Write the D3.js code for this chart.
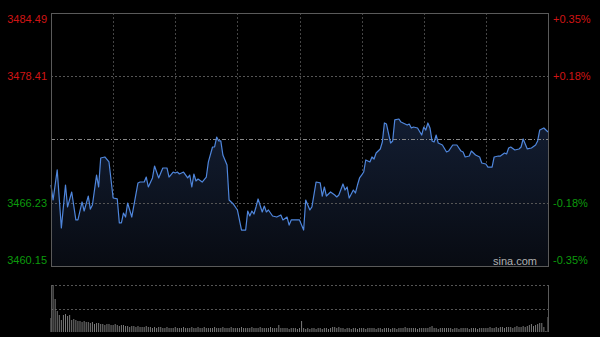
<!DOCTYPE html>
<html lang="zh-CN">
<head>
<meta charset="UTF-8"/>
<title>分时图</title>
<style>
  html, body { margin: 0; padding: 0; background: #000; }
  svg { display: block; }
  text { font-family: "Liberation Sans", Arial, sans-serif; font-size: 11px; }
</style>
</head>
<body>
<svg id="chart" width="600" height="337"></svg>
<script src="https://cdn.jsdelivr.net/npm/d3@7/dist/d3.min.js"></script>
<script>
// price axis labels (left) and percent labels (right)
var priceTicks = [3484.49, 3478.41, 3466.23, 3460.15];
var pctTicks = ["+0.35%", "+0.18%", "-0.18%", "-0.35%"];
var prevClose = 3472.32;

// minute index (0..240) and index level
var minutes = [0,1,3,5,7,8,10,12,13,15,16,18,19,20,22,23,24,26,28,30,32,33,34,35,36,37,39,42,43,45,
  46,47,49,50,52,54,56,57,59,60,61,62,64,66,67,68,69,70,71,73,75,76,78,79,80,81,82,83,85,86,
  88,90,92,94,95,96,97,98,99,100,102,103,104,105,107,109,111,112,114,115,116,118,120,122,123,125,126,128,130,131,
  132,133,135,137,138,139,141,142,143,144,146,147,148,149,150,151,152,154,155,156,157,159,160,161,162,164,165,166,168,169,
  170,172,173,174,175,177,179,180,181,182,183,184,185,186,187,189,191,192,194,196,198,199,200,202,203,205,207,208,210,211,
  213,214,216,217,219,220,221,222,224,226,227,228,230,232,234,235,236,238,239,240];
var prices = [3467.94,3466.50,3469.39,3463.81,3467.94,3465.83,3467.27,3464.58,3464.58,3466.31,3465.44,3466.88,3465.63,3466.02,3468.90,3467.75,3470.54,3470.64,3470.16,3466.69,3466.60,3464.29,3464.29,3465.25,3464.86,3466.21,3464.86,3468.14,3468.23,3468.23,
  3468.71,3467.75,3468.62,3469.77,3468.62,3469.58,3469.58,3468.71,3469.19,3469.10,3469.19,3469.00,3469.19,3468.62,3468.90,3467.75,3469.00,3468.33,3468.52,3468.23,3468.71,3470.16,3471.60,3471.60,3472.56,3472.18,3472.18,3470.83,3469.87,3466.50,
  3466.12,3465.54,3463.61,3463.61,3465.44,3464.96,3465.44,3465.15,3465.83,3466.60,3465.35,3465.92,3465.35,3465.54,3464.96,3464.86,3465.06,3464.58,3464.86,3464.09,3464.58,3464.58,3464.58,3463.61,3466.50,3465.54,3465.83,3468.23,3468.14,3466.88,
  3467.75,3466.88,3467.27,3466.98,3466.79,3466.98,3468.04,3467.46,3467.75,3466.69,3467.46,3467.17,3467.94,3468.62,3468.90,3469.19,3470.35,3470.16,3470.64,3470.44,3471.02,3471.41,3472.08,3473.91,3473.81,3471.98,3472.18,3474.20,3474.29,3474.00,
  3473.91,3473.71,3473.81,3473.43,3473.52,3473.43,3472.75,3473.52,3473.23,3473.91,3473.43,3472.18,3472.08,3472.75,3471.98,3471.79,3471.12,3471.21,3471.79,3471.79,3471.21,3471.12,3470.64,3470.73,3471.21,3470.83,3470.64,3470.06,3469.96,3469.67,
  3469.67,3470.64,3470.73,3470.73,3471.02,3470.93,3471.50,3471.60,3471.31,3471.41,3471.60,3472.37,3471.41,3471.50,3471.79,3472.18,3473.23,3473.43,3473.23,3473.04];

// volume per minute (relative units)
var volumes = [14,47,33,21,17,12,17,18,16,17, 12,13,12,11,11,10,11,10,10,9,
  10,8,9,9,8,8,7,8,8,7, 7,8,7,6,7,7,6,6,5,6,
  6,5,6,5,5,5,6,5,5,4, 5,4,5,5,4,4,5,4,4,4,
  5,4,4,4,5,4,4,4,5,4, 4,5,4,4,5,4,4,4,4,5,
  4,4,4,5,4,4,4,5,4,4, 4,4,5,4,4,4,4,5,4,4,
  4,5,4,4,4,4,5,4,4,4, 7,4,4,4,4,3,4,4,4,3,
  4,11,4,3,4,3,4,4,3,4, 4,3,4,4,3,4,5,5,4,5,
  4,4,3,4,4,3,4,4,3,4, 4,4,3,4,4,4,4,3,4,4,
  3,4,4,4,3,4,4,3,4,4, 4,5,4,4,4,4,4,3,4,4,
  4,4,4,5,6,4,4,3,4,4, 4,4,4,4,3,4,4,3,4,4,
  4,4,3,4,4,4,3,4,4,4, 4,4,5,4,4,5,4,5,5,4,
  5,5,5,4,5,6,5,5,6,5, 6,7,8,6,7,8,9,9,5,1,
  15];

var svg = d3.select("#chart");
var pLeft = 51, pRight = 548, pTop = 13, pBottom = 266;
var vTop = 285, vBottom = 332;

var x = d3.scaleLinear().domain([0, 240]).range([pLeft, pRight]);
var y = d3.scaleLinear().domain([priceTicks[3], priceTicks[0]]).range([pBottom, pTop]);
var yv = d3.scaleLinear().domain([0, d3.max(volumes)]).range([vBottom, vTop]);

var pts = minutes.map(function(m, i) { return {m: m, p: prices[i]}; });

// gradient under the line
var grad = svg.append("defs").append("linearGradient")
    .attr("id", "fillGrad").attr("gradientUnits", "userSpaceOnUse")
    .attr("x1", 0).attr("y1", pTop).attr("x2", 0).attr("y2", pBottom);
grad.append("stop").attr("offset", "0%").attr("stop-color", "#1a2a48");
grad.append("stop").attr("offset", "100%").attr("stop-color", "#080b12");

// vertical grid (8 sections)
var vgrid = d3.range(1, 8).map(function(i) { return pLeft + (pRight - pLeft) * i / 8; });
svg.selectAll(".vg").data(vgrid).enter().append("line")
    .attr("x1", function(d) { return Math.round(d) + 0.5; })
    .attr("x2", function(d) { return Math.round(d) + 0.5; })
    .attr("y1", pTop).attr("y2", pBottom)
    .attr("stroke", "#444").attr("stroke-dasharray", "2,2");

// area + line
var area = d3.area()
    .x(function(d) { return x(d.m); })
    .y0(pBottom)
    .y1(function(d) { return y(d.p); });
svg.append("path").datum(pts).attr("d", area).attr("fill", "url(#fillGrad)");

// horizontal grid
[priceTicks[1], priceTicks[2]].forEach(function(v) {
  svg.append("line")
    .attr("x1", pLeft).attr("x2", pRight)
    .attr("y1", Math.round(y(v)) + 0.5).attr("y2", Math.round(y(v)) + 0.5)
    .attr("stroke", "#555").attr("stroke-dasharray", "2,2");
});
svg.append("line")
    .attr("x1", pLeft).attr("x2", pRight)
    .attr("y1", Math.round(y(prevClose)) + 0.5).attr("y2", Math.round(y(prevClose)) + 0.5)
    .attr("stroke", "#888").attr("stroke-dasharray", "4,2,1,2");

var line = d3.line()
    .x(function(d) { return x(d.m); })
    .y(function(d) { return y(d.p); });
svg.append("path").datum(pts).attr("d", line)
    .attr("fill", "none").attr("stroke", "#4f86dc").attr("stroke-width", 1.2)
    .attr("stroke-linejoin", "round");

// frame
svg.append("rect").attr("x", pLeft + 0.5).attr("y", pTop + 0.5)
    .attr("width", pRight - pLeft).attr("height", pBottom - pTop)
    .attr("fill", "none").attr("stroke", "#5a5a5a");

function labelY(d, i) {
  if (i === 0) return y(d) + 10;
  if (i === priceTicks.length - 1) return y(d) - 2;
  return y(d) + 4;
}
function labelColor(d) { return d > prevClose ? "#d01414" : "#0c9a0c"; }

// price labels
svg.selectAll(".pl").data(priceTicks).enter().append("text")
    .attr("x", 47).attr("text-anchor", "end")
    .attr("y", labelY)
    .attr("fill", labelColor)
    .text(function(d) { return d.toFixed(2); });

svg.selectAll(".pc").data(priceTicks).enter().append("text")
    .attr("x", 553)
    .attr("y", labelY)
    .attr("fill", labelColor)
    .text(function(d, i) { return pctTicks[i]; });

svg.append("text").attr("x", 537).attr("y", 265).attr("text-anchor", "end")
    .attr("fill", "#b0b0b0").text("sina.com");

// volume panel
[vTop, Math.round((vTop + vBottom) / 2)].forEach(function(v) {
  svg.append("line").attr("x1", pLeft).attr("x2", pRight)
    .attr("y1", v + 0.5).attr("y2", v + 0.5)
    .attr("stroke", "#555").attr("stroke-dasharray", "2,2");
});
svg.selectAll(".vol").data(volumes).enter().append("rect")
    .attr("x", function(d, i) { return x(i) - 0.5; })
    .attr("width", 1)
    .attr("y", function(d) { return yv(d); })
    .attr("height", function(d) { return vBottom - yv(d); })
    .attr("fill", "#7a7a7a");
[pLeft + 0.5, pRight + 0.5].forEach(function(v) {
  svg.append("line").attr("x1", v).attr("x2", v)
    .attr("y1", vTop).attr("y2", vBottom)
    .attr("stroke", "#5a5a5a");
});
</script>
</body>
</html>
